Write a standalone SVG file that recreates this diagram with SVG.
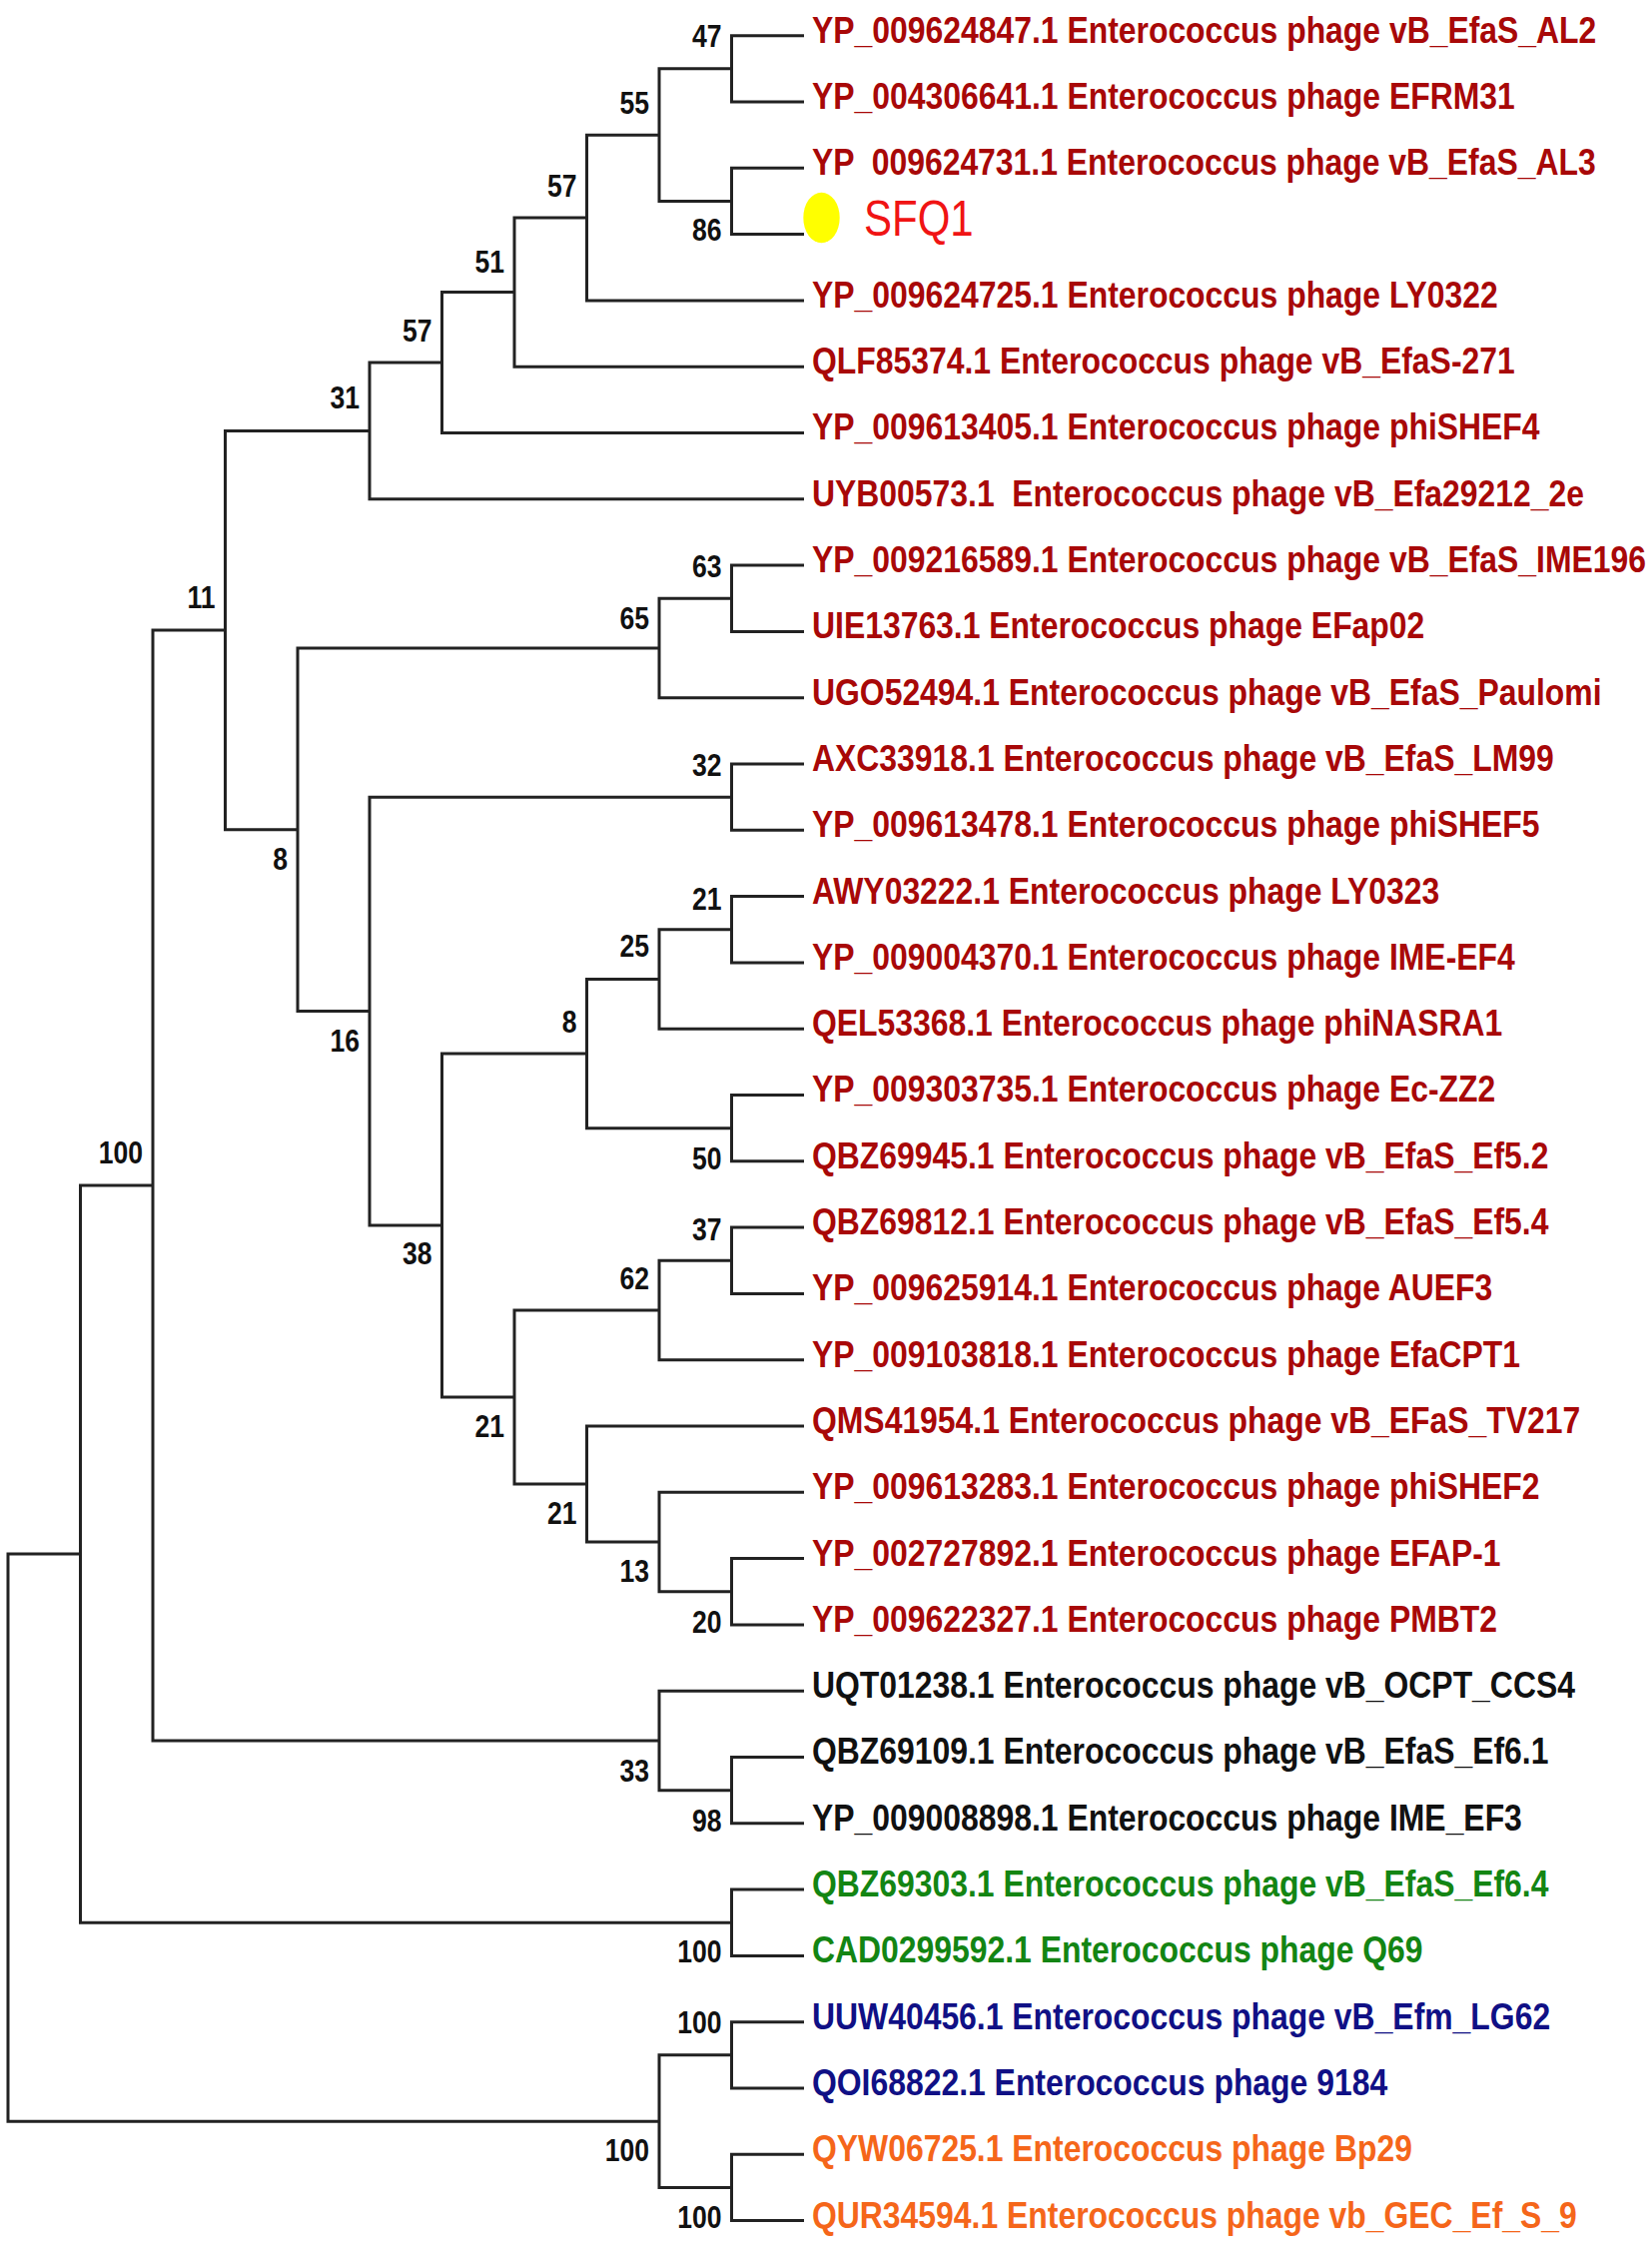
<svg xmlns="http://www.w3.org/2000/svg" width="1654" height="2248" viewBox="0 0 1654 2248">
<style>
.t{font-family:"Liberation Sans",Arial,sans-serif;font-weight:bold;font-size:37.5px;white-space:pre}
.red{fill:#A80808}.blk{fill:#111111}.grn{fill:#138513}.nav{fill:#101085}.org{fill:#F5661A}
.bs{font-family:"Liberation Sans",Arial,sans-serif;font-weight:bold;font-size:31px;text-anchor:end;fill:#111111}
.br{fill:none;stroke:#222222;stroke-width:3;stroke-linejoin:miter}
.q{font-family:"Liberation Sans",Arial,sans-serif;font-size:49px;fill:#F01414}
</style>
<rect width="1654" height="2248" fill="#ffffff"/>
<g id="connectors" class="br">
<path d="M805 35.7 H732.5 V102 H805"/>
<path d="M805 168.3 H732.5 V234.6 H805"/>
<path d="M732.5 68.85 H660 V201.45 H732.5"/>
<path d="M660 135.15 H587.5 V300.9 H805"/>
<path d="M587.5 218 H515 V367.2 H805"/>
<path d="M515 292.6 H442.5 V433.5 H805"/>
<path d="M442.5 363.05 H370 V499.8 H805"/>
<path d="M805 566.1 H732.5 V632.4 H805"/>
<path d="M732.5 599.25 H660 V698.7 H805"/>
<path d="M805 765 H732.5 V831.3 H805"/>
<path d="M805 897.6 H732.5 V963.9 H805"/>
<path d="M732.5 930.75 H660 V1030.2 H805"/>
<path d="M805 1096.5 H732.5 V1162.8 H805"/>
<path d="M660 980.5 H587.5 V1129.65 H732.5"/>
<path d="M805 1229.1 H732.5 V1295.4 H805"/>
<path d="M732.5 1262.25 H660 V1361.7 H805"/>
<path d="M805 1560.6 H732.5 V1626.9 H805"/>
<path d="M805 1494.3 H660 V1593.75 H732.5"/>
<path d="M805 1428 H587.5 V1544 H660"/>
<path d="M660 1312 H515 V1486 H587.5"/>
<path d="M587.5 1055.1 H442.5 V1399 H515"/>
<path d="M732.5 798.15 H370 V1227.05 H442.5"/>
<path d="M660 649 H298 V1012.6 H370"/>
<path d="M370 431.4 H225.5 V830.8 H298"/>
<path d="M805 1759.5 H732.5 V1825.8 H805"/>
<path d="M805 1693.2 H660 V1792.65 H732.5"/>
<path d="M225.5 631.1 H153 V1742.9 H660"/>
<path d="M805 1892.1 H732.5 V1958.4 H805"/>
<path d="M153 1187 H80.5 V1925.25 H732.5"/>
<path d="M805 2024.7 H732.5 V2091 H805"/>
<path d="M805 2157.3 H732.5 V2223.6 H805"/>
<path d="M732.5 2057.85 H660 V2190.45 H732.5"/>
<path d="M80.5 1556.1 H8 V2124.15 H660"/>
</g>
<g id="leaves">
<g id="leaf1"><text class="t red" transform="translate(813,42.6) scale(0.851,1)">YP_009624847.1 Enterococcus phage vB_EfaS_AL2</text></g>
<g id="leaf2"><text class="t red" transform="translate(813,108.9) scale(0.851,1)">YP_004306641.1 Enterococcus phage EFRM31</text></g>
<g id="leaf3"><text class="t red" xml:space="preserve" transform="translate(813,175.2) scale(0.851,1)">YP  009624731.1 Enterococcus phage vB_EfaS_AL3</text></g>
<g id="leaf4"><ellipse cx="822.5" cy="218" rx="18.2" ry="25.3" fill="#FFFF00"/><text class="q" transform="translate(865,235.5) scale(0.857,1)">SFQ1</text></g>
<g id="leaf5"><text class="t red" transform="translate(813,307.8) scale(0.851,1)">YP_009624725.1 Enterococcus phage LY0322</text></g>
<g id="leaf6"><text class="t red" transform="translate(813,374.1) scale(0.851,1)">QLF85374.1 Enterococcus phage vB_EfaS-271</text></g>
<g id="leaf7"><text class="t red" transform="translate(813,440.4) scale(0.851,1)">YP_009613405.1 Enterococcus phage phiSHEF4</text></g>
<g id="leaf8"><text class="t red" xml:space="preserve" transform="translate(813,506.7) scale(0.851,1)">UYB00573.1  Enterococcus phage vB_Efa29212_2e</text></g>
<g id="leaf9"><text class="t red" transform="translate(813,573) scale(0.851,1)">YP_009216589.1 Enterococcus phage vB_EfaS_IME196</text></g>
<g id="leaf10"><text class="t red" transform="translate(813,639.3) scale(0.851,1)">UIE13763.1 Enterococcus phage EFap02</text></g>
<g id="leaf11"><text class="t red" transform="translate(813,705.6) scale(0.851,1)">UGO52494.1 Enterococcus phage vB_EfaS_Paulomi</text></g>
<g id="leaf12"><text class="t red" transform="translate(813,771.9) scale(0.851,1)">AXC33918.1 Enterococcus phage vB_EfaS_LM99</text></g>
<g id="leaf13"><text class="t red" transform="translate(813,838.2) scale(0.851,1)">YP_009613478.1 Enterococcus phage phiSHEF5</text></g>
<g id="leaf14"><text class="t red" transform="translate(813,904.5) scale(0.851,1)">AWY03222.1 Enterococcus phage LY0323</text></g>
<g id="leaf15"><text class="t red" transform="translate(813,970.8) scale(0.851,1)">YP_009004370.1 Enterococcus phage IME-EF4</text></g>
<g id="leaf16"><text class="t red" transform="translate(813,1037.1) scale(0.851,1)">QEL53368.1 Enterococcus phage phiNASRA1</text></g>
<g id="leaf17"><text class="t red" transform="translate(813,1103.4) scale(0.851,1)">YP_009303735.1 Enterococcus phage Ec-ZZ2</text></g>
<g id="leaf18"><text class="t red" transform="translate(813,1169.7) scale(0.851,1)">QBZ69945.1 Enterococcus phage vB_EfaS_Ef5.2</text></g>
<g id="leaf19"><text class="t red" transform="translate(813,1236) scale(0.851,1)">QBZ69812.1 Enterococcus phage vB_EfaS_Ef5.4</text></g>
<g id="leaf20"><text class="t red" transform="translate(813,1302.3) scale(0.851,1)">YP_009625914.1 Enterococcus phage AUEF3</text></g>
<g id="leaf21"><text class="t red" transform="translate(813,1368.6) scale(0.851,1)">YP_009103818.1 Enterococcus phage EfaCPT1</text></g>
<g id="leaf22"><text class="t red" transform="translate(813,1434.9) scale(0.851,1)">QMS41954.1 Enterococcus phage vB_EFaS_TV217</text></g>
<g id="leaf23"><text class="t red" transform="translate(813,1501.2) scale(0.851,1)">YP_009613283.1 Enterococcus phage phiSHEF2</text></g>
<g id="leaf24"><text class="t red" transform="translate(813,1567.5) scale(0.851,1)">YP_002727892.1 Enterococcus phage EFAP-1</text></g>
<g id="leaf25"><text class="t red" transform="translate(813,1633.8) scale(0.851,1)">YP_009622327.1 Enterococcus phage PMBT2</text></g>
<g id="leaf26"><text class="t blk" transform="translate(813,1700.1) scale(0.851,1)">UQT01238.1 Enterococcus phage vB_OCPT_CCS4</text></g>
<g id="leaf27"><text class="t blk" transform="translate(813,1766.4) scale(0.851,1)">QBZ69109.1 Enterococcus phage vB_EfaS_Ef6.1</text></g>
<g id="leaf28"><text class="t blk" transform="translate(813,1832.7) scale(0.851,1)">YP_009008898.1 Enterococcus phage IME_EF3</text></g>
<g id="leaf29"><text class="t grn" transform="translate(813,1899) scale(0.851,1)">QBZ69303.1 Enterococcus phage vB_EfaS_Ef6.4</text></g>
<g id="leaf30"><text class="t grn" transform="translate(813,1965.3) scale(0.851,1)">CAD0299592.1 Enterococcus phage Q69</text></g>
<g id="leaf31"><text class="t nav" transform="translate(813,2031.6) scale(0.851,1)">UUW40456.1 Enterococcus phage vB_Efm_LG62</text></g>
<g id="leaf32"><text class="t nav" transform="translate(813,2097.9) scale(0.851,1)">QOI68822.1 Enterococcus phage 9184</text></g>
<g id="leaf33"><text class="t org" transform="translate(813,2164.2) scale(0.851,1)">QYW06725.1 Enterococcus phage Bp29</text></g>
<g id="leaf34"><text class="t org" transform="translate(813,2230.5) scale(0.851,1)">QUR34594.1 Enterococcus phage vb_GEC_Ef_S_9</text></g>
</g>
<g id="internal-nodes">
<g id="n47"><text class="bs" transform="translate(722.5,46.8) scale(0.857,1)">47</text></g>
<g id="n55"><text class="bs" transform="translate(650,113.8) scale(0.857,1)">55</text></g>
<g id="n86"><text class="bs" transform="translate(722.5,241.1) scale(0.857,1)">86</text></g>
<g id="n57a"><text class="bs" transform="translate(577.5,197) scale(0.857,1)">57</text></g>
<g id="n51"><text class="bs" transform="translate(505,272.7) scale(0.857,1)">51</text></g>
<g id="n57b"><text class="bs" transform="translate(432.5,342) scale(0.857,1)">57</text></g>
<g id="n31"><text class="bs" transform="translate(360,408.6) scale(0.857,1)">31</text></g>
<g id="n11"><text class="bs" transform="translate(215.5,608.8) scale(0.857,1)">11</text></g>
<g id="n63"><text class="bs" transform="translate(722.5,578) scale(0.857,1)">63</text></g>
<g id="n65"><text class="bs" transform="translate(650,629.7) scale(0.857,1)">65</text></g>
<g id="n32"><text class="bs" transform="translate(722.5,777) scale(0.857,1)">32</text></g>
<g id="n8a"><text class="bs" transform="translate(288,871) scale(0.857,1)">8</text></g>
<g id="n21a"><text class="bs" transform="translate(722.5,910.6) scale(0.857,1)">21</text></g>
<g id="n25"><text class="bs" transform="translate(650,958) scale(0.857,1)">25</text></g>
<g id="n8c"><text class="bs" transform="translate(577.5,1033.6) scale(0.857,1)">8</text></g>
<g id="n16"><text class="bs" transform="translate(360,1053) scale(0.857,1)">16</text></g>
<g id="n100a"><text class="bs" transform="translate(143,1164.7) scale(0.857,1)">100</text></g>
<g id="n50"><text class="bs" transform="translate(722.5,1171) scale(0.857,1)">50</text></g>
<g id="n38"><text class="bs" transform="translate(432.5,1266) scale(0.857,1)">38</text></g>
<g id="n37"><text class="bs" transform="translate(722.5,1242) scale(0.857,1)">37</text></g>
<g id="n62"><text class="bs" transform="translate(650,1290.5) scale(0.857,1)">62</text></g>
<g id="n21b"><text class="bs" transform="translate(505,1439) scale(0.857,1)">21</text></g>
<g id="n21c"><text class="bs" transform="translate(577.5,1525.7) scale(0.857,1)">21</text></g>
<g id="n13"><text class="bs" transform="translate(650,1583.7) scale(0.857,1)">13</text></g>
<g id="n20"><text class="bs" transform="translate(722.5,1635) scale(0.857,1)">20</text></g>
<g id="n33"><text class="bs" transform="translate(650,1784) scale(0.857,1)">33</text></g>
<g id="n98"><text class="bs" transform="translate(722.5,1834) scale(0.857,1)">98</text></g>
<g id="n100b"><text class="bs" transform="translate(722.5,1965) scale(0.857,1)">100</text></g>
<g id="n100d"><text class="bs" transform="translate(722.5,2035.7) scale(0.857,1)">100</text></g>
<g id="n100c"><text class="bs" transform="translate(650,2164) scale(0.857,1)">100</text></g>
<g id="n100e"><text class="bs" transform="translate(722.5,2231) scale(0.857,1)">100</text></g>
</g>
</svg>
